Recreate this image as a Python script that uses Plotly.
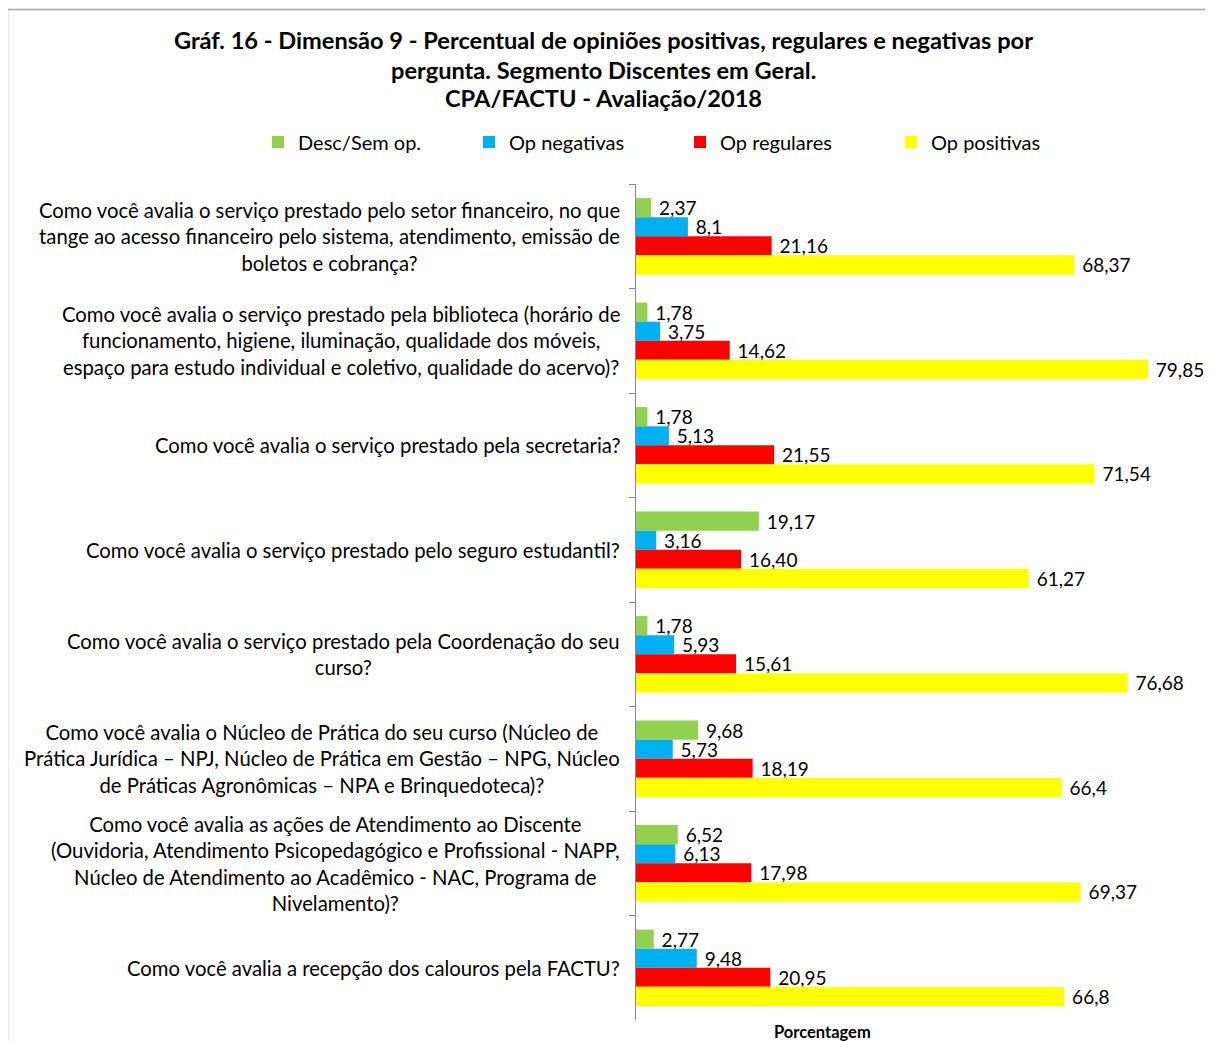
import plotly.graph_objects as go

categories = [
    "Como você avalia o serviço prestado pelo setor financeiro, no que<br>tange ao acesso financeiro pelo sistema, atendimento, emissão de<br>boletos e cobrança?",
    "Como você avalia o serviço prestado pela biblioteca (horário de<br>funcionamento, higiene, iluminação, qualidade dos móveis,<br>espaço para estudo individual e coletivo, qualidade do acervo)?",
    "Como você avalia o serviço prestado pela secretaria?",
    "Como você avalia o serviço prestado pelo seguro estudantil?",
    "Como você avalia o serviço prestado pela Coordenação do seu<br>curso?",
    "Como você avalia o Núcleo de Prática do seu curso (Núcleo de<br>Prática Jurídica – NPJ, Núcleo de Prática em Gestão – NPG, Núcleo<br>de Práticas Agronômicas – NPA e Brinquedoteca)?",
    "Como você avalia as ações de Atendimento ao Discente<br>(Ouvidoria, Atendimento Psicopedagógico e Profissional - NAPP,<br>Núcleo de Atendimento ao Acadêmico - NAC, Programa de<br>Nivelamento)?",
    "Como você avalia a recepção dos calouros pela FACTU?",
]

series_names = ["Desc/Sem op.", "Op negativas", "Op regulares", "Op positivas"]

desc_sem_op = [2.37, 1.78, 1.78, 19.17, 1.78, 9.68, 6.52, 2.77]
op_negativas = [8.1, 3.75, 5.13, 3.16, 5.93, 5.73, 6.13, 9.48]
op_regulares = [21.16, 14.62, 21.55, 16.40, 15.61, 18.19, 17.98, 20.95]
op_positivas = [68.37, 79.85, 71.54, 61.27, 76.68, 66.4, 69.37, 66.8]

desc_labels = ["2,37", "1,78", "1,78", "19,17", "1,78", "9,68", "6,52", "2,77"]
neg_labels = ["8,1", "3,75", "5,13", "3,16", "5,93", "5,73", "6,13", "9,48"]
reg_labels = ["21,16", "14,62", "21,55", "16,40", "15,61", "18,19", "17,98", "20,95"]
pos_labels = ["68,37", "79,85", "71,54", "61,27", "76,68", "66,4", "69,37", "66,8"]

colors = ["#92D050", "#00B0F0", "#FF0000", "#FFFF00"]

FONT = "Lato"
# the page body adds an 8px margin; figure starts at page pixel 8
W, H = 1225, 1033
L, R, T, B = 628, 20, 176, 21
pw, ph = W - L - R, H - T - B


def px_x(fx):
    return (fx - L) / pw


def px_y(fy):
    return (H - B - fy) / ph


fig = go.Figure()
for name, vals, labs, col in zip(
    series_names,
    [desc_sem_op, op_negativas, op_regulares, op_positivas],
    [desc_labels, neg_labels, reg_labels, pos_labels],
    colors,
):
    fig.add_trace(go.Bar(
        y=categories,
        x=vals,
        orientation="h",
        name=name,
        marker=dict(color=col, line=dict(width=0)),
        text=["\u00a0" + t for t in labs],
        textposition="outside",
        textfont=dict(family=FONT, size=19, color="black"),
        constraintext="none",
        cliponaxis=False,
        hoverinfo="skip",
    ))

# category labels (centred multi-line text, right-anchored next to axis)
for cat in categories:
    fig.add_annotation(
        x=px_x(614), xref="paper", y=cat, yref="y",
        text=cat, showarrow=False, xanchor="right", yanchor="middle",
        align="center", font=dict(family=FONT, size=20.3, color="black"),
    )

title_lines = [
    "Gráf. 16 - Dimensão 9 - Percentual de opiniões positivas, regulares e negativas por",
    "pergunta. Segmento Discentes em Geral.",
    "CPA/FACTU - Avaliação/2018",
]
for line, fy in zip(title_lines, [32, 62, 90]):
    fig.add_annotation(
        x=px_x(595), xref="paper", y=px_y(fy), yref="paper",
        text="<b>" + line + "</b>", showarrow=False, xanchor="center", yanchor="middle",
        font=dict(family=FONT, size=23.6, color="black"),
    )

fig.add_annotation(
    x=px_x(814), xref="paper", y=px_y(1024), yref="paper",
    text="<b>Porcentagem</b>", showarrow=False, xanchor="center", yanchor="middle",
    font=dict(family=FONT, size=16.5, color="black"),
)

# outer chart border (left and top)
border = dict(color="#A6A6A6", width=1.5)
fig.add_shape(type="line", xref="paper", yref="paper",
              x0=px_x(-0.5), x1=px_x(-0.5), y0=px_y(1.5), y1=-0.1, line=border)
fig.add_shape(type="line", xref="paper", yref="paper",
              x0=px_x(-0.5), x1=px_x(W), y0=px_y(1.5), y1=px_y(1.5), line=border)

fig.update_layout(
    width=W, height=H,
    margin=dict(l=L, r=R, t=T, b=B, pad=0),
    paper_bgcolor="white", plot_bgcolor="white",
    barmode="group", bargap=0.27, bargroupgap=0,
    font=dict(family=FONT, size=18, color="black"),
    showlegend=True,
    legend=dict(
        orientation="h", xref="paper", yref="paper",
        x=px_x(250), y=px_y(134), xanchor="left", yanchor="middle",
        entrywidth=166, entrywidthmode="pixels",
        font=dict(family=FONT, size=20, color="black"),
        traceorder="normal", itemclick=False, itemdoubleclick=False,
    ),
    xaxis=dict(range=[0, 90], visible=False, fixedrange=True),
    yaxis=dict(
        type="category", categoryorder="array", categoryarray=categories,
        autorange="reversed",
        showticklabels=False,
        tickson="boundaries", ticks="outside", ticklen=6, tickcolor="#868686",
        showline=True, linecolor="#868686", linewidth=1, showgrid=False,
        zeroline=False, fixedrange=True,
    ),
)

fig.write_html("out.html")
